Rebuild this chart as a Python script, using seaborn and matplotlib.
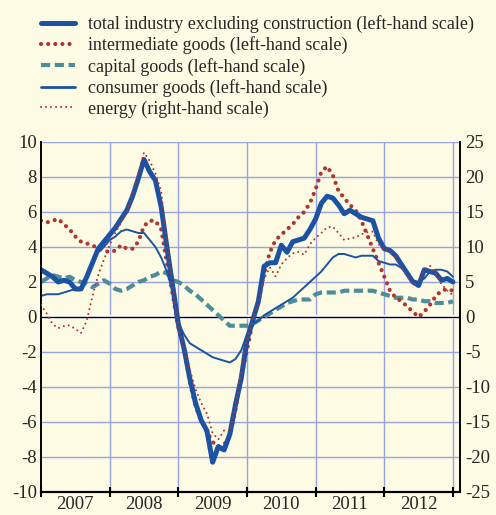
import numpy as np
import pandas as pd
import matplotlib
matplotlib.use("Agg")
import matplotlib.pyplot as plt
import seaborn as sns
from matplotlib.lines import Line2D

# === Data: monthly, Jan 2007 .. Jan 2013 (annual % changes) ===
years = ["2007", "2008", "2009", "2010", "2011", "2012"]

total_industry = [2.7, 2.5, 2.3, 2.0, 2.1, 2.0, 1.6, 1.6, 2.3, 3.1, 3.9, 4.3,
                  4.7, 5.1, 5.6, 6.1, 6.9, 7.9, 9.0, 8.3, 7.8, 6.3, 4.0, 1.8,
                  -0.4, -1.8, -3.5, -4.9, -5.9, -6.5, -8.3, -7.4, -7.6, -6.7, -5.0, -3.5,
                  -1.3, -0.2, 0.9, 2.9, 3.1, 3.1, 4.1, 3.7, 4.3, 4.4, 4.5, 5.0,
                  5.6, 6.5, 6.9, 6.8, 6.4, 5.9, 6.1, 5.9, 5.7, 5.6, 5.5, 4.5,
                  3.9, 3.8, 3.5, 3.0, 2.5, 2.0, 1.8, 2.7, 2.6, 2.5, 2.1, 2.2,
                  2.0]

intermediate = [5.5, 5.4, 5.5, 5.6, 5.3, 5.0, 4.6, 4.3, 4.2, 4.1, 3.9, 3.8,
                3.7, 3.8, 4.1, 3.9, 3.9, 4.3, 5.2, 5.5, 5.5, 5.0, 3.1, 1.3,
                -0.6, -1.8, -3.7, -5.1, -5.9, -6.6, -7.1, -7.7, -7.3, -6.8, -5.3, -3.4,
                -1.9, -0.3, 1.0, 2.5, 3.7, 4.4, 4.7, 5.0, 5.3, 5.7, 6.0, 6.5,
                7.3, 8.3, 8.6, 8.1, 7.2, 6.8, 6.4, 6.1, 5.5, 4.7, 3.9, 3.1,
                2.3, 1.5, 1.1, 0.9, 0.6, 0.3, 0.0, 0.3, 0.7, 1.2, 1.5, 1.6,
                1.5]

capital = [2.0, 2.2, 2.4, 2.3, 2.2, 2.3, 2.1, 2.0, 1.9, 1.7, 1.9, 2.1,
           1.9, 1.6, 1.5, 1.6, 1.8, 2.0, 2.1, 2.3, 2.4, 2.6, 2.5, 2.1,
           2.0, 1.8, 1.5, 1.3, 1.0, 0.7, 0.4, 0.1, -0.2, -0.5, -0.5, -0.5,
           -0.5, -0.4, -0.2, 0.0, 0.2, 0.4, 0.6, 0.8, 0.9, 1.0, 1.0, 1.0,
           1.3, 1.4, 1.4, 1.4, 1.4, 1.5, 1.5, 1.5, 1.5, 1.5, 1.5, 1.4,
           1.3, 1.2, 1.1, 1.1, 1.1, 1.0, 1.0, 0.9, 0.9, 0.8, 0.8, 0.8,
           0.9]

consumer = [1.2, 1.3, 1.3, 1.3, 1.4, 1.5, 1.6, 1.7, 2.2, 3.2, 3.7, 4.0,
            4.4, 4.6, 4.9, 5.0, 4.9, 4.8, 4.8, 4.4, 4.0, 3.4, 2.6, 1.5,
            -0.3, -1.0, -1.5, -1.7, -1.9, -2.1, -2.3, -2.4, -2.5, -2.6, -2.4, -1.9,
            -1.0, -0.4, -0.2, 0.1, 0.3, 0.5, 0.7, 0.9, 1.1, 1.4, 1.7, 2.0,
            2.3, 2.6, 3.0, 3.4, 3.6, 3.6, 3.5, 3.4, 3.5, 3.5, 3.5, 3.2,
            3.1, 3.0, 3.0, 2.8, 2.5, 2.1, 2.0, 2.2, 2.6, 2.7, 2.7, 2.6,
            2.3]

energy = [1.7, 0.5, -1.0, -1.6, -1.3, -1.2, -1.7, -2.3, -0.5, 3.0, 6.0, 8.2,
          10.3, 12.0, 13.5, 15.0, 17.7, 20.5, 23.5, 22.3, 20.5, 18.0, 10.5, 4.5,
          -1.2, -4.5, -7.5, -10.3, -12.3, -13.8, -16.6, -17.5, -16.2, -16.3, -12.8, -7.6,
          -3.2, -0.4, 1.8, 5.5, 7.1, 5.8, 7.5, 8.4, 9.1, 9.3, 8.9, 10.4,
          11.3, 12.0, 12.8, 12.9, 12.0, 11.0, 11.2, 11.4, 11.8, 12.1, 12.2, 10.4,
          9.6, 9.3, 8.4, 7.0, 5.9, 4.7, 4.9, 6.8, 7.3, 6.2, 4.7, 3.8,
          3.1]

labels = ["total industry excluding construction (left-hand scale)",
          "intermediate goods (left-hand scale)",
          "capital goods (left-hand scale)",
          "consumer goods (left-hand scale)",
          "energy (right-hand scale)"]

t = np.arange(len(total_industry)) / 12.0
df = pd.DataFrame({"t": t, "total": total_industry, "inter": intermediate,
                   "capital": capital, "consumer": consumer, "energy": energy})

BG = "#fdfbe4"
GRID = "#97a3e3"
BLUE = "#1c52a3"
RED = "#b0352c"
TEAL = "#4f8c9b"

sns.set_theme(style="white")
plt.rcParams["font.family"] = ["Liberation Serif", "DejaVu Serif"]
plt.rcParams["axes.unicode_minus"] = False

fig = plt.figure(figsize=(4.96, 5.15), dpi=100, facecolor=BG)
ax = fig.add_axes([0.0827, 0.0447, 0.8443, 0.6796])
ax.set_facecolor(BG)
ax2 = ax.twinx()

# grid
for y in range(-8, 11, 2):
    ax.axhline(y, color=GRID, lw=1, zorder=0)
for x in range(1, 7):
    ax.axvline(x, color=GRID, lw=1, zorder=0)
ax.axhline(0, color="white", lw=3, zorder=1)
ax.axhline(0, color="black", lw=1, zorder=1.5)

sns.lineplot(data=df, x="t", y="total", ax=ax, color=BLUE, lw=3.6,
             solid_joinstyle="round", zorder=5)
sns.lineplot(data=df, x="t", y="inter", ax=ax, color=RED, lw=3.0,
             linestyle=(0, (0.01, 1.7)), dash_capstyle="round", zorder=4)
sns.lineplot(data=df, x="t", y="capital", ax=ax, color=TEAL, lw=3.0,
             linestyle=(0, (2.2, 1.1)), zorder=3)
sns.lineplot(data=df, x="t", y="consumer", ax=ax, color=BLUE, lw=1.4, zorder=4)
sns.lineplot(data=df, x="t", y="energy", ax=ax2, color=RED, lw=1.5,
             linestyle=(0, (0.01, 2.4)), dash_capstyle="round", zorder=4)

ax.set_xlim(0, 6.1)
ax.set_ylim(-10, 10)
ax2.set_ylim(-25, 25)
ax.set_yticks(range(-10, 11, 2))
ax2.set_yticks(range(-25, 26, 5))
ax.set_xlabel("")
ax.set_ylabel("")
ax2.set_ylabel("")

ax.set_xticks(range(0, 7))
ax.set_xticklabels([])
ax.set_xticks([i + 0.5 for i in range(6)], minor=True)
ax.set_xticklabels(years, minor=True)
ax.tick_params(axis="x", which="major", direction="inout", length=7, width=1.5,
               color="black", bottom=True)
ax.tick_params(axis="x", which="minor", length=0, labelsize=13.5, pad=3)
ax.tick_params(axis="y", length=0, labelsize=13.5, pad=3)
ax2.tick_params(axis="y", length=0, labelsize=13.5, pad=4)

for a in (ax, ax2):
    a.spines["top"].set_visible(False)
    for side in ("left", "right", "bottom"):
        a.spines[side].set_color("black")
    a.spines["left"].set_linewidth(1.2)
    a.spines["right"].set_linewidth(1.2)
    a.spines["bottom"].set_linewidth(1.5)

# legend above the plot
handles = [
    Line2D([], [], color=BLUE, lw=3.6),
    Line2D([], [], color=RED, lw=3.0, linestyle=(0, (0.01, 1.7)), dash_capstyle="round"),
    Line2D([], [], color=TEAL, lw=3.0, linestyle=(0, (2.2, 1.1))),
    Line2D([], [], color=BLUE, lw=2.0),
    Line2D([], [], color=RED, lw=1.5, linestyle=(0, (0.01, 2.4)), dash_capstyle="round"),
]
fig.legend(handles, labels, loc="upper left", bbox_to_anchor=(0.068, 0.985),
           frameon=False, fontsize=13, handlelength=1.9, handletextpad=0.72,
           labelspacing=0.19, borderaxespad=0)

fig.savefig("out.png", dpi=100, facecolor=BG)
